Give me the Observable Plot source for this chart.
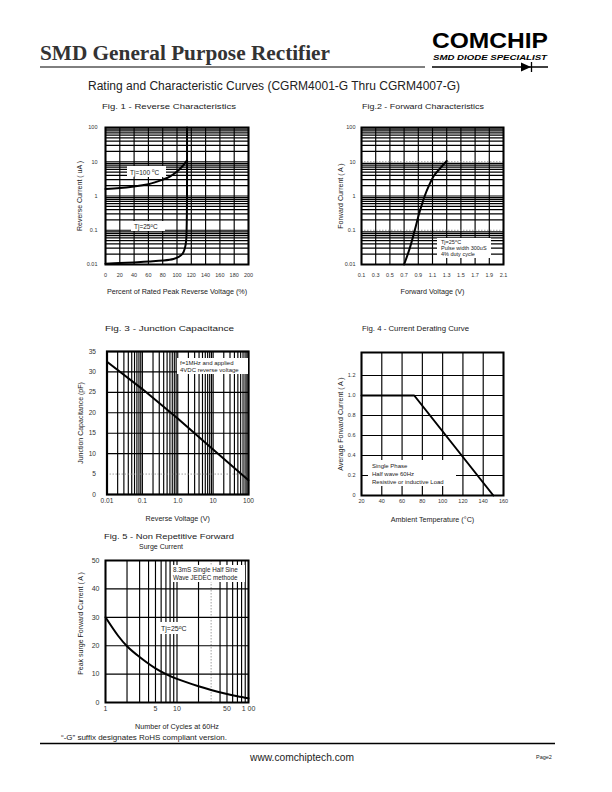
<!DOCTYPE html>
<html><head><meta charset="utf-8">
<script src="https://cdn.jsdelivr.net/npm/d3@7"></script>
<script src="https://cdn.jsdelivr.net/npm/@observablehq/plot@0.6"></script>
<style>
body{margin:0;width:612px;height:792px;position:relative;background:#fff;overflow:hidden;font-family:"Liberation Sans",Arial,sans-serif;color:#222;}
.fig{position:absolute;}
#overlay{position:absolute;left:0;top:0;z-index:5;pointer-events:none;}
</style></head><body>
<div id="f1" class="fig" style="left:60px;top:115px"></div>
<div id="f2" class="fig" style="left:315px;top:115px"></div>
<div id="f3" class="fig" style="left:60px;top:340px"></div>
<div id="f4" class="fig" style="left:315px;top:340px"></div>
<div id="f5" class="fig" style="left:60px;top:550px"></div>
<svg id="overlay" width="612" height="792" font-family="Liberation Sans, Arial, sans-serif" fill="#222">
  <text x="40" y="60" font-family="Liberation Serif, Times New Roman, serif" font-weight="bold" font-size="20" textLength="290" lengthAdjust="spacingAndGlyphs" fill="#333">SMD General Purpose Rectifier</text>
  <line x1="40" y1="67" x2="425" y2="67" stroke="#000" stroke-width="1"/>
  <text x="432" y="47.5" font-weight="bold" font-size="22" textLength="116" lengthAdjust="spacingAndGlyphs" fill="#000">COMCHIP</text>
  <text x="433" y="60" font-weight="bold" font-style="italic" font-size="7.5" textLength="114" lengthAdjust="spacingAndGlyphs" fill="#000">SMD DIODE SPECIALIST</text>
  <line x1="432" y1="67" x2="548" y2="67" stroke="#000" stroke-width="1.3"/>
  <path d="M521,62.5 L531,67 L521,71.5 Z" fill="#000"/>
  <line x1="531.5" y1="62" x2="531.5" y2="72" stroke="#000" stroke-width="1.3"/>
  <text x="88" y="90" font-size="12" textLength="372" lengthAdjust="spacingAndGlyphs">Rating and Characteristic Curves (CGRM4001-G Thru CGRM4007-G)</text>

  <text x="102" y="109" font-size="7.8" textLength="134" lengthAdjust="spacingAndGlyphs">Fig. 1 -  Reverse Characteristics</text>
  <text x="362" y="109" font-size="7.8" textLength="122" lengthAdjust="spacingAndGlyphs">Fig.2 -  Forward Characteristics</text>
  <text x="105" y="331" font-size="8" textLength="129" lengthAdjust="spacingAndGlyphs">Fig. 3 -  Junction Capacitance</text>
  <text x="362" y="331" font-size="7.5" textLength="107" lengthAdjust="spacingAndGlyphs">Fig. 4 - Current Derating Curve</text>
  <text x="104" y="539" font-size="8" textLength="130" lengthAdjust="spacingAndGlyphs">Fig. 5 -  Non Repetitive Forward</text>
  <text x="139" y="549" font-size="8" textLength="44" lengthAdjust="spacingAndGlyphs">Surge Current</text>

  <rect x="127" y="166" width="39" height="11" fill="#fff"/>
  <text x="130" y="174.5" font-size="6.5">Tj=100 <tspan dy="-2.5" font-size="4.5">o</tspan><tspan dy="2.5">C</tspan></text>
  <rect x="131" y="221" width="34" height="10" fill="#fff"/>
  <text x="134" y="229" font-size="6.5">Tj=25<tspan dy="-2.5" font-size="4.5">o</tspan><tspan dy="2.5">C</tspan></text>

  <rect x="437" y="238" width="54" height="20" fill="#fff"/>
  <text x="441" y="244" font-size="5.5">Tj=25<tspan dy="-2" font-size="4">o</tspan><tspan dy="2">C</tspan></text>
  <text x="441" y="250" font-size="5.5">Pulse width 300uS</text>
  <text x="441" y="256" font-size="5.5">4% duty cycle</text>

  <rect x="177" y="358" width="71" height="16" fill="#fff"/>
  <text x="180" y="365" font-size="6">f=1MHz and applied</text>
  <text x="180" y="372" font-size="6">4VDC reverse voltage</text>

  <rect x="368" y="460" width="88" height="26" fill="#fff"/>
  <text x="372" y="467.5" font-size="6">Single Phase</text>
  <text x="372" y="475.5" font-size="6">Half wave 60Hz</text>
  <text x="372" y="483.5" font-size="6">Resistive or inductive Load</text>

  <rect x="171" y="565" width="74" height="17" fill="#fff"/>
  <text x="173" y="572" font-size="6.3">8.3mS Single Half Sine</text>
  <text x="173" y="580" font-size="6.3">Wave JEDEC methode</text>
  <rect x="158" y="622" width="30" height="12" fill="#fff"/>
  <text x="161" y="631" font-size="7">Tj=25<tspan dy="-2.5" font-size="5">o</tspan><tspan dy="2.5">C</tspan></text>

  <text x="61" y="740" font-size="6.8" textLength="166" lengthAdjust="spacingAndGlyphs">“-G” suffix designates RoHS compliant version.</text>
  <line x1="40" y1="743.5" x2="555" y2="743.5" stroke="#000" stroke-width="1.3"/>
  <text x="250" y="761" font-size="10.5" textLength="104" lengthAdjust="spacingAndGlyphs">www.comchiptech.com</text>
  <text x="536" y="759" font-size="5.5">Page2</text>
</svg>
<script>
// ---------- DATA ----------
// Fig 1 - Reverse characteristics
const fig1XTicks = [0, 20, 40, 60, 80, 100, 120, 140, 160, 180, 200];
const fig1YTicks = [0.01, 0.1, 1, 10, 100];
const fig1YTickLabels = ["0.01", "0.1", "1", "10", "100"];
const fig1Tj25Pct = [0, 20, 40, 60, 80, 95, 103, 108, 111, 112.8, 113.6, 114, 114];
const fig1Tj25Cur = [0.0105, 0.011, 0.0115, 0.0122, 0.013, 0.0145, 0.017, 0.021, 0.03, 0.05, 0.15, 1, 100];
const fig1Tj100Pct = [0, 20, 40, 60, 80, 90, 100, 108, 114];
const fig1Tj100Cur = [1.6, 1.7, 1.9, 2.2, 3.0, 3.7, 5.2, 7.5, 11];

// Fig 2 - Forward characteristics
const fig2XTicks = [0.1, 0.3, 0.5, 0.7, 0.9, 1.1, 1.3, 1.5, 1.7, 1.9, 2.1];
const fig2XTickLabels = ["0.1", "0.3", "0.5", "0.7", "0.9", "1.1", "1.3", "1.5", "1.7", "1.9", "2.1"];
const fig2YTicks = [0.01, 0.1, 1, 10, 100];
const fig2YTickLabels = ["0.01", "0.1", "1", "10", "100"];
const fig2Volt = [0.70, 0.78, 0.85, 0.91, 0.955, 0.99, 1.05, 1.12, 1.21, 1.30];
const fig2Cur = [0.01, 0.03, 0.1, 0.3, 0.6, 1, 2, 3.9, 6.5, 10.5];

// Fig 3 - Junction capacitance
const fig3XTicks = [0.01, 0.1, 1, 10, 100];
const fig3XTickLabels = ["0.01", "0.1", "1.0", "10", "100"];
const fig3YTicks = [0, 5, 10, 15, 20, 25, 30, 35];
const fig3Volt = [0.01, 0.1, 1, 10, 100];
const fig3Cap = [32.5, 25.8, 18.6, 11, 3.5];

// Fig 4 - Current derating
const fig4XTicks = [20, 40, 60, 80, 100, 120, 140, 160];
const fig4YTicks = [0, 0.2, 0.4, 0.6, 0.8, 1.0, 1.2];
const fig4YTickLabels = ["0", "0.2", "0.4", "0.6", "0.8", "1.0", "1.2"];
const fig4Temp = [20, 72, 150];
const fig4Cur = [1.0, 1.0, 0];

// Fig 5 - Surge current
const fig5XTicks = [1, 5, 10, 50, 100];
const fig5XTickLabels = ["1", "5", "10", "50", "1 00"];
const fig5YTicks = [0, 10, 20, 30, 40, 50];
const fig5Cycles = [1, 1.5, 2, 3, 5, 7, 10, 20, 30, 50, 70, 100];
const fig5Amps = [30, 23.5, 19.8, 16, 12, 10, 8.3, 5.7, 4.4, 3.0, 2.2, 1.5];

// ---------- HELPERS ----------
const FONT = "Liberation Sans, Arial, sans-serif";
const zip = (xs, ys) => xs.map((x, i) => ({x, y: ys[i]}));
function logMinor(lo, hi) { // gridline positions of a log axis
  const out = [];
  for (let d = lo; d < hi * 0.999; d *= 10) for (let k = 1; k < 10; k++) out.push(+(d * k).toPrecision(3));
  out.push(hi);
  return out;
}
const lab = (ticks, labels) => d => labels[ticks.findIndex(t => Math.abs(t - d) < 1e-9)] ?? "";
function mount(id, o) {
  const {box, frame, ...rest} = o;
  const [left, top, width, height] = box;
  const [x0, x1, y0, y1] = frame;
  const p = Plot.plot({
    width, height,
    marginLeft: x0 - left, marginRight: left + width - x1,
    marginTop: y0 - top, marginBottom: top + height - y1,
    style: {fontFamily: FONT, color: "#222", background: "transparent", overflow: "visible"},
    ...rest
  });
  document.getElementById(id).appendChild(p);
}
const G = {stroke: "#000", strokeWidth: 1.15};
const GD = {stroke: "#888", strokeWidth: 0.8, strokeDasharray: "1.5,1.5"};
const C = {x: "x", y: "y", stroke: "#000", strokeWidth: 2};
const AX = {tickSize: 0, label: null, fill: "#333"};
const xTitle = (t, dy) => Plot.text([t], {text: d => d, frameAnchor: "bottom", textAnchor: "middle", lineAnchor: "middle", dy, fontSize: 7.2});
const yTitle = (t, dx, dy = 0) => Plot.text([t], {text: d => d, frameAnchor: "left", textAnchor: "middle", lineAnchor: "middle", dx, dy, rotate: -90, fontSize: 7});

// ---------- FIG 1 ----------
mount("f1", {
  box: [60, 115, 200, 195], frame: [105, 248, 127, 264],
  x: {domain: [0, 200]},
  y: {type: "log", domain: [0.01, 100]},
  marks: [
    Plot.ruleX(fig1XTicks, G),
    Plot.ruleY(logMinor(0.01, 100), G),
    Plot.line(zip(fig1Tj25Pct, fig1Tj25Cur), {...C, curve: "catmull-rom"}),
    Plot.line(zip(fig1Tj100Pct, fig1Tj100Cur), {...C, curve: "catmull-rom"}),
    Plot.frame({stroke: "#000", strokeWidth: 2}),
    Plot.axisX({...AX, ticks: fig1XTicks, tickPadding: 9, fontSize: 5.5}),
    Plot.axisY({...AX, ticks: fig1YTicks, tickFormat: lab(fig1YTicks, fig1YTickLabels), tickPadding: 8, fontSize: 5.5}),
    xTitle("Percent of Rated Peak Reverse Voltage (%)", 27),
    yTitle("Reverse Current ( uA )", -26)
  ]
});

// ---------- FIG 2 ----------
mount("f2", {
  box: [315, 115, 200, 195], frame: [361, 503, 127, 264],
  x: {domain: [0.1, 2.1]},
  y: {type: "log", domain: [0.01, 100]},
  marks: [
    Plot.ruleX(fig2XTicks, G),
    Plot.ruleY(logMinor(0.01, 100).filter(v => v !== 0.1 && v !== 10), G),
    Plot.ruleY([0.1, 10], GD),
    Plot.line(zip(fig2Volt, fig2Cur), {...C, curve: "catmull-rom"}),
    Plot.frame({stroke: "#000", strokeWidth: 2}),
    Plot.axisX({...AX, ticks: fig2XTicks, tickFormat: lab(fig2XTicks, fig2XTickLabels), tickPadding: 9, fontSize: 5.5}),
    Plot.axisY({...AX, ticks: fig2YTicks, tickFormat: lab(fig2YTicks, fig2YTickLabels), tickPadding: 6, fontSize: 5.5}),
    xTitle("Forward Voltage (V)", 27),
    yTitle("Forward Current ( A )", -21)
  ]
});

// ---------- FIG 3 ----------
mount("f3", {
  box: [60, 340, 200, 190], frame: [106.5, 248, 351, 494],
  x: {type: "log", domain: [0.01, 100]},
  y: {domain: [0, 35]},
  marks: [
    Plot.ruleX(logMinor(0.01, 100), G),
    Plot.ruleY(fig3YTicks.filter(v => v !== 5), G),
    Plot.ruleY([5], GD),
    Plot.line(zip(fig3Volt, fig3Cap), {...C}),
    Plot.frame({stroke: "#000", strokeWidth: 2.2}),
    Plot.axisX({...AX, ticks: fig3XTicks, tickFormat: lab(fig3XTicks, fig3XTickLabels), tickPadding: 4, fontSize: 6.6}),
    Plot.axisY({...AX, ticks: fig3YTicks, tickPadding: 11, fontSize: 6.6}),
    xTitle("Reverse Voltage (V)", 24),
    yTitle("Junction Capacitance (pF)", -26)
  ]
});

// ---------- FIG 4 ----------
mount("f4", {
  box: [315, 340, 200, 190], frame: [361, 503, 352, 495],
  x: {domain: [20, 160]},
  y: {domain: [0, 1.43]},
  marks: [
    Plot.ruleX(fig4XTicks, G),
    Plot.ruleY(fig4YTicks, G),
    Plot.line(zip(fig4Temp, fig4Cur), {...C}),
    Plot.frame({stroke: "#000", strokeWidth: 2}),
    Plot.axisX({...AX, ticks: fig4XTicks, tickPadding: 3.5, fontSize: 5.5}),
    Plot.axisY({...AX, ticks: fig4YTicks, tickFormat: lab(fig4YTicks, fig4YTickLabels), tickPadding: 6, fontSize: 5.5}),
    xTitle("Ambient Temperature (°C)", 24),
    yTitle("Average Forward Current ( A )", -21)
  ]
});

// ---------- FIG 5 ----------
mount("f5", {
  box: [60, 550, 200, 185], frame: [105, 248, 560, 702],
  x: {type: "log", domain: [1, 100]},
  y: {domain: [0, 50]},
  marks: [
    Plot.ruleX(logMinor(1, 100).filter(v => v !== 30), G),
    Plot.ruleX([30], GD),
    Plot.ruleY(fig5YTicks, G),
    Plot.line(zip(fig5Cycles, fig5Amps), {...C, curve: "catmull-rom"}),
    Plot.frame({stroke: "#000", strokeWidth: 2}),
    Plot.axisX({...AX, ticks: fig5XTicks, tickFormat: lab(fig5XTicks, fig5XTickLabels), tickPadding: 4, fontSize: 7}),
    Plot.axisY({...AX, ticks: fig5YTicks, tickPadding: 6, fontSize: 7}),
    xTitle("Number of Cycles at 60Hz", 24.5),
    yTitle("Peak surge Forward Current ( A )", -24.5, -8)
  ]
});
</script>
</body></html>
